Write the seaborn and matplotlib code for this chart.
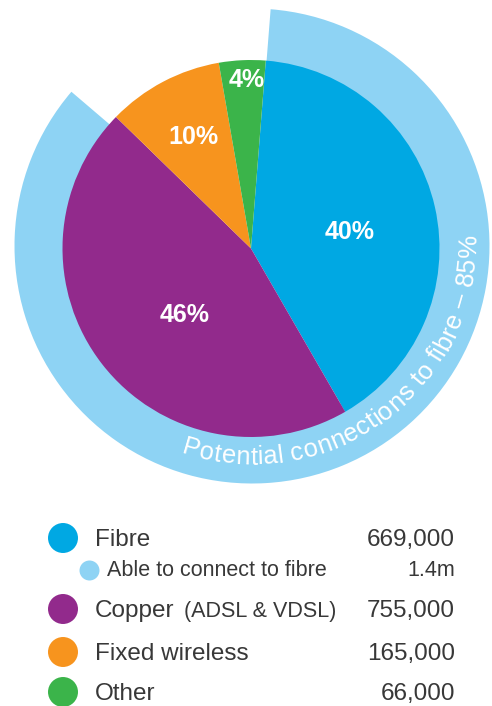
import numpy as np
import pandas as pd
import matplotlib
matplotlib.use("Agg")
import matplotlib.pyplot as plt
import seaborn as sns
from matplotlib import font_manager
from matplotlib.ft2font import FT2Font

# ---- data ----
categories = ["Fibre", "Copper", "Fixed wireless", "Other"]
connections = [669000, 755000, 165000, 66000]
category_notes = {"Copper": "(ADSL & VDSL)"}
able_label = "Able to connect to fibre"
able_value = "1.4m"
potential_share = 85  # % of connections able to go to fibre
ring_text = f"Potential connections to fibre \u2013 {potential_share}%"

palette = {
    "Fibre": "#00A8E3",
    "Copper": "#922A8C",
    "Fixed wireless": "#F7941E",
    "Other": "#3BB44A",
}
ring_color = "#8ED3F4"
text_color = "#383838"

# ---- style ----
sns.set_theme(style="white")
plt.rcParams["font.family"] = ["Liberation Sans", "DejaVu Sans"]

W, H = 492, 706
fig = plt.figure(figsize=(W / 100, H / 100), dpi=100)
ax = fig.add_axes([0, 0, 1, 1])

cx, cy = 251, H - 248.5          # pie centre
rx, ry = 252, H - 246            # ring centre
R_pie = 188.5
R_ring = 237.5
start = 85.5

# outer ring: share of connections that could be fibre
ax.pie([potential_share, 100 - potential_share], radius=R_ring, center=(rx, ry),
       startangle=start, counterclock=False,
       colors=[ring_color, "none"],
       wedgeprops=dict(width=R_ring - R_pie + 8, linewidth=0))

# main pie
wedges, _ = ax.pie(connections, radius=R_pie, center=(cx, cy),
                   startangle=start, counterclock=False,
                   colors=[palette[c] for c in categories],
                   wedgeprops=dict(linewidth=0))

ax.set_xlim(0, W)
ax.set_ylim(0, H)
ax.set_aspect("equal")
ax.axis("off")

# percentage labels inside the slices
total = sum(connections)
label_radius = [0.533, 0.497, 0.667, 0.894]
label_shift = [-3.2, 7.3, -0.3, -1.3]
for w, v, f, d in zip(wedges, connections, label_radius, label_shift):
    mid = np.deg2rad((w.theta1 + w.theta2) / 2 + d)
    ax.text(cx + f * R_pie * np.cos(mid), cy + f * R_pie * np.sin(mid),
            f"{round(100 * v / total)}%", color="white", fontsize=18,
            fontweight="bold", ha="center", va="center")

# curved caption along the ring
ring_fs = 18.5
ring_fp = font_manager.FontProperties(family="Liberation Sans", size=ring_fs)
ft = FT2Font(font_manager.findfont(ring_fp), hinting_factor=1)
ft.set_size(ring_fs, 100)
advances = np.array([ft.load_char(ord(ch)).linearHoriAdvance / 65536.0
                     for ch in ring_text])
L = advances.sum()
lefts = np.concatenate([[0], np.cumsum(advances)[:-1]])
tx, ty = 252, H - 240
r_base, r_mid = 224.5, 216
theta_c = np.deg2rad(-53.5)
for ch, x0, a in zip(ring_text, lefts, advances):
    if ch == " ":
        continue
    s = x0 + a / 2 - L / 2
    th = theta_c + s / r_mid
    ax.text(tx + r_base * np.cos(th), ty + r_base * np.sin(th), ch,
            fontproperties=ring_fp, color="white",
            rotation=np.rad2deg(th) + 90, rotation_mode="anchor",
            ha="center", va="baseline")

# ---- legend ----
renderer = fig.canvas.get_renderer()
rows_y = {"Fibre": 538, "Copper": 609, "Fixed wireless": 652, "Other": 692}
able_y = 570
dot_x, text_x, value_x = 63, 95, 455
sub_dot_x, sub_text_x = 89, 107
main_fs, sub_fs = 17.5, 15.5

legend_df = pd.DataFrame({
    "category": categories,
    "x": [dot_x] * len(categories),
    "y": [H - rows_y[c] for c in categories],
})
sns.scatterplot(data=legend_df, x="x", y="y", hue="category", palette=palette,
                s=466, linewidth=0, legend=False, ax=ax)
sns.scatterplot(x=[sub_dot_x], y=[H - able_y], color=ring_color, s=207,
                linewidth=0, legend=False, ax=ax)
ax.set_xlim(0, W)
ax.set_ylim(0, H)
ax.axis("off")

for c, v in zip(categories, connections):
    y = H - rows_y[c] - 8
    t = ax.text(text_x, y, c, fontsize=main_fs, color=text_color,
                ha="left", va="baseline")
    if c in category_notes:
        bb = t.get_window_extent(renderer=renderer)
        x1 = ax.transData.inverted().transform((bb.x1, bb.y0))[0]
        ax.text(x1 + 10, y, category_notes[c], fontsize=sub_fs,
                color=text_color, ha="left", va="baseline")
    ax.text(value_x, y, f"{v:,}", fontsize=main_fs, color=text_color,
            ha="right", va="baseline")

ax.text(sub_text_x, H - able_y - 6, able_label, fontsize=sub_fs,
        color=text_color, ha="left", va="baseline")
ax.text(value_x, H - able_y - 6, able_value, fontsize=sub_fs,
        color=text_color, ha="right", va="baseline")

fig.savefig("out.png", dpi=100, facecolor="white")
